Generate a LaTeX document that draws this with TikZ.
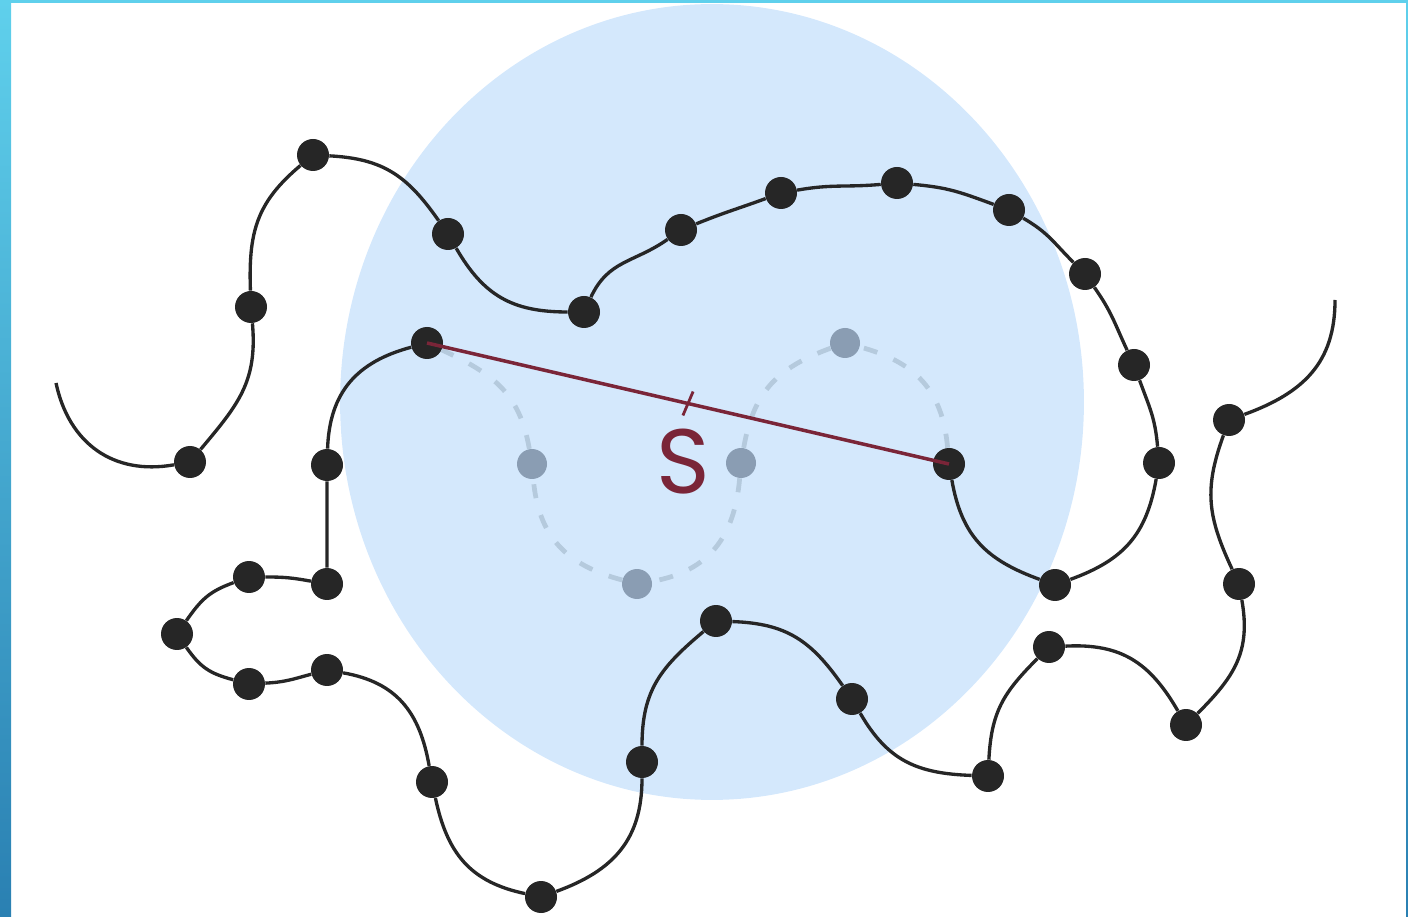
\documentclass[tikz,border=0pt]{standalone}
\usepackage{fontspec}
\setmainfont{Poppins}
\usetikzlibrary{calc}
\definecolor{cadrehaut}{HTML}{5FD0EC}
\definecolor{cadrebas}{HTML}{2A80B2}
\definecolor{bulle}{HTML}{D4E8FC}
\definecolor{noir}{HTML}{262626}
\definecolor{fantome}{HTML}{8A9DB3}
\definecolor{pointille}{HTML}{B5CADD}
\definecolor{bordeaux}{HTML}{7A2538}
\begin{document}
\begin{tikzpicture}[x=0.02cm,y=0.02cm,
	bead/.style={circle,fill=noir,inner sep=0pt,minimum size=0.64cm},
	ghost/.style={circle,fill=fantome,inner sep=0pt,minimum size=0.6cm},
	chain/.style={draw=noir,line width=1.9pt,looseness=1.1},
	gap/.style={draw=pointille,line width=2.7pt,dash pattern=on 8pt off 10pt,looseness=1.1},
	segline/.style={draw=bordeaux,line width=2pt}]
		\useasboundingbox (0,0) rectangle (1408,916);
		%cadre
		\shade[top color=cadrehaut,bottom color=cadrebas] (0,0) rectangle (11,916);
		\fill[cadrehaut] (0,913) rectangle (1408,916);
		\shade[top color=cadrehaut,bottom color=cadrebas] (1406,0) rectangle (1408,916);
		%bulle
		\fill[bulle] (712,514) ellipse [x radius=7.44cm,y radius=7.96cm];
		%perles
		\coordinate (e0) at (56,533);
		\node[bead] (b1) at (190,454) {};
		\node[bead] (b2) at (251,609) {};
		\node[bead] (b3) at (313,761) {};
		\node[bead] (b4) at (448,682) {};
		\node[bead] (b5) at (584,604) {};
		\node[bead] (b6) at (681,686) {};
		\node[bead] (b7) at (781,723) {};
		\node[bead] (b8) at (897,733) {};
		\node[bead] (b9) at (1009,706) {};
		\node[bead] (b10) at (1085,642) {};
		\node[bead] (b11) at (1134,551) {};
		\node[bead] (b12) at (1159,453) {};
		\node[bead] (b13) at (1055,331) {};
		\node[bead] (b14) at (949,452) {};
		\node[ghost] (g1) at (845,573) {};
		\node[ghost] (g2) at (741,453) {};
		\node[ghost] (g3) at (637,332) {};
		\node[ghost] (g4) at (532,452) {};
		\node[bead] (b15) at (427,573) {};
		\node[bead] (b16) at (327,451) {};
		\node[bead] (b17) at (327,332) {};
		\node[bead] (b18) at (249,339) {};
		\node[bead] (b19) at (177,282) {};
		\node[bead] (b20) at (249,232) {};
		\node[bead] (b21) at (327,246) {};
		\node[bead] (b22) at (432,134) {};
		\node[bead] (b23) at (541,19) {};
		\node[bead] (b24) at (642,154) {};
		\node[bead] (b25) at (716,295) {};
		\node[bead] (b26) at (852,217) {};
		\node[bead] (b27) at (988,140) {};
		\node[bead] (b28) at (1049,269) {};
		\node[bead] (b29) at (1186,191) {};
		\node[bead] (b30) at (1239,332) {};
		\node[bead] (b31) at (1229,496) {};
		\coordinate (e1) at (1335,616);
		%chaine, premier bout
		\draw[chain] (e0) to[out=-78,in=190] (b1) to[out=50,in=-85] (b2)
			to[out=92,in=-140] (b3) to[out=-3,in=125] (b4) to[out=-60,in=180] (b5)
			to[out=65,in=-145] (b6) to[out=22,in=-160] (b7) to[out=10,in=-175] (b8)
			to[out=-5,in=160] (b9) to[out=-30,in=135] (b10) to[out=-55,in=115] (b11)
			to[out=-70,in=95] (b12) to[out=-100,in=20] (b13) to[out=160,in=-80] (b14);
		%morceau retire
		\draw[gap] (b14) to[out=95,in=-15] (g1) to[out=200,in=80] (g2)
			to[out=-95,in=10] (g3) to[out=165,in=-85] (g4) to[out=100,in=-25] (b15);
		%chaine, second bout
		\draw[chain] (b15) to[out=195,in=88] (b16) -- (b17)
			to[out=170,in=0] (b18) to[out=200,in=55] (b19) to[out=-55,in=165] (b20)
			to[out=3,in=195] (b21) to[out=-10,in=100] (b22) to[out=-78,in=168] (b23)
			to[out=20,in=-90] (b24) to[out=90,in=-140] (b25) to[out=-2,in=125] (b26)
			to[out=-60,in=178] (b27) to[out=87,in=-135] (b28) to[out=3,in=120] (b29)
			to[out=45,in=-80] (b30) to[out=115,in=-110] (b31) to[out=20,in=-90] (e1);
		%raccourci S
		\draw[segline] (b15.center) -- (b14.center);
		\coordinate (mil) at ($(b15)!0.5!(b14)$);
		\draw[segline,line width=1.6pt] ($(mil)!0.26cm!80:(b14)$) -- ($(mil)!0.26cm!-100:(b14)$);
		\node[text=bordeaux,font=\fontsize{52}{52}\selectfont] (lbl) at (683,454) {S};
	\end{tikzpicture}
\end{document}
